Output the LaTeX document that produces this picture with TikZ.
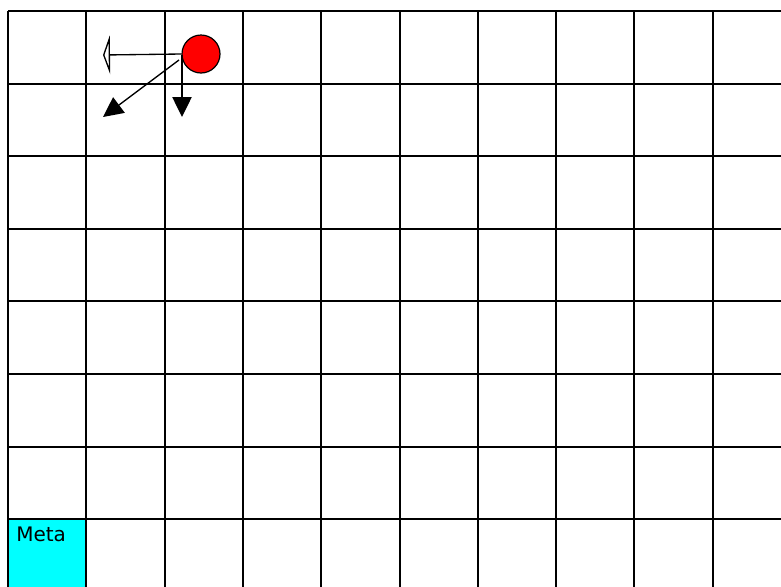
\documentclass[tikz,border=0pt]{standalone}
\usepackage{fontspec}
\setmainfont{DejaVu Sans}
\usetikzlibrary{arrows.meta}
\definecolor{goalcyan}{RGB}{0,255,255}
\definecolor{ballred}{RGB}{255,0,0}
\tikzset{
  gridline/.style={line width=1.5pt, black},
  goal/.style={fill=goalcyan, draw=none},
  ball/.style={circle, fill=ballred, draw=black, line width=0.9pt, minimum size=28.5pt, inner sep=0pt},
  movearrow/.style={line width=1pt, black},
  openhead/.style={-{Triangle[open, length=5.25pt, width=29pt, line width=1pt]}},
  fullhead/.style={-{Triangle[length=15pt, width=14.5pt]}},
  goaltext/.style={anchor=base west, inner sep=0pt, font=\fontsize{15pt}{18pt}\selectfont}
}
\begin{document}
\begin{tikzpicture}[x=0.75pt, y=-0.75pt]
\useasboundingbox (0,0) rectangle (781,586);
\begin{scope}
\clip (0,0) rectangle (781,586);
\fill[goal] (8,519.2) rectangle (86.3,600);
\foreach \i in {0,...,10} {
  \draw[gridline] ({8+78.3*\i},11) -- ({8+78.3*\i},600);
}
\foreach \j in {0,...,8} {
  \draw[gridline] (8,{11+72.6*\j}) -- (800,{11+72.6*\j});
}
\end{scope}
\node[goaltext] (meta) at (16,541) {Meta};
\node[ball] (robot) at (201,54) {};
\coordinate (leftend) at (103,55);
\coordinate (diagstart) at (179,60);
\coordinate (diagend) at (103,117);
\coordinate (downstart) at (182,55);
\coordinate (downend) at (182,117);
\draw[movearrow, openhead] (robot.west) -- (leftend);
\draw[movearrow, fullhead] (diagstart) -- (diagend);
\draw[movearrow, fullhead] (downstart) -- (downend);
\end{tikzpicture}
\end{document}
